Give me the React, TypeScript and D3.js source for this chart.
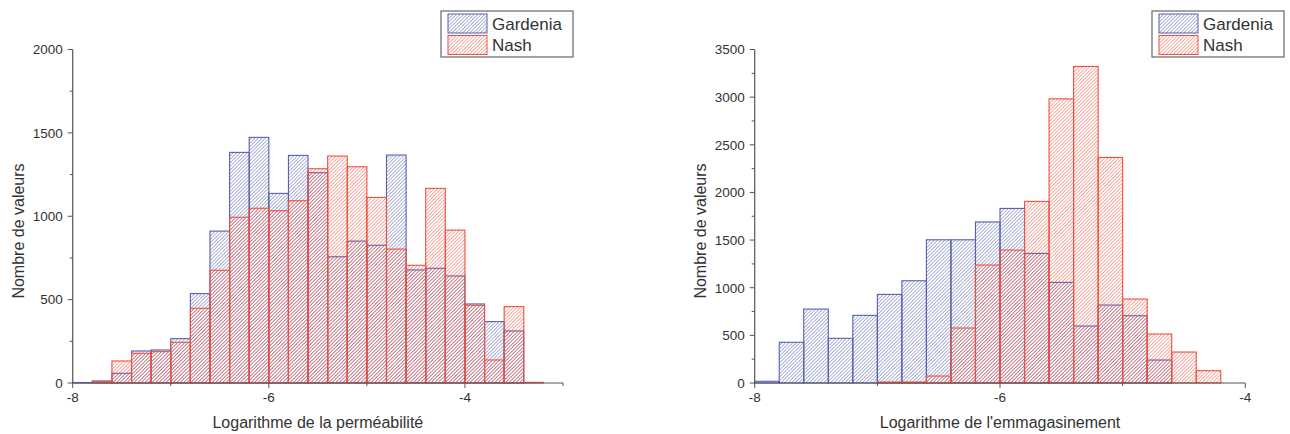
import React from "react";
import * as d3 from "d3";

// ---------- data ----------
const leftBinStarts = [
  -8.0, -7.8, -7.6, -7.4, -7.2, -7.0, -6.8, -6.6, -6.4, -6.2, -6.0, -5.8, -5.6,
  -5.4, -5.2, -5.0, -4.8, -4.6, -4.4, -4.2, -4.0, -3.8, -3.6, -3.4, -3.2,
];
const leftGardenia = [
  3, 12, 58, 192, 198, 266, 536, 911, 1383, 1473, 1137, 1365, 1261, 757, 851,
  826, 1367, 678, 688, 642, 474, 368, 312, 0, 0,
];
const leftNash = [
  0, 10, 132, 178, 188, 244, 448, 676, 994, 1048, 1033, 1093, 1285, 1361, 1297,
  1113, 803, 706, 1167, 917, 466, 138, 458, 4, 0,
];

const rightBinStarts = [
  -8.0, -7.8, -7.6, -7.4, -7.2, -7.0, -6.8, -6.6, -6.4, -6.2, -6.0, -5.8, -5.6,
  -5.4, -5.2, -5.0, -4.8, -4.6, -4.4, -4.2,
];
const rightGardenia = [
  18, 427, 776, 469, 710, 930, 1073, 1503, 1503, 1690, 1832, 1360, 1056, 598,
  818, 706, 241, 0, 0, 0,
];
const rightNash = [
  0, 0, 0, 0, 0, 10, 10, 73, 577, 1238, 1395, 1906, 2982, 3322, 2367, 881, 514,
  325, 129, 0,
];

const binWidth = 0.2;
const seriesNames = ["Gardenia", "Nash"];
const leftYTicks = [0, 500, 1000, 1500, 2000];
const rightYTicks = [0, 500, 1000, 1500, 2000, 2500, 3000, 3500];
const xTickLabels = [-8, -6, -4];

const BLUE = "#5560b0";
const RED = "#f0503c";
const AXIS = "#555";
const TEXT = "#333";
const FONT = "Liberation Sans, Arial, sans-serif";

type PanelProps = {
  x0: number;
  x1: number;
  xDomain: [number, number];
  yMax: number;
  yTicks: number[];
  minorX: number[];
  bins: number[];
  g: number[];
  n: number[];
  xTitle: string;
  legendX: number;
};

function Panel(p: PanelProps) {
  const yTop = 49.5;
  const yBot = 383;
  const x = d3.scaleLinear().domain(p.xDomain).range([p.x0, p.x1]);
  const y = d3.scaleLinear().domain([0, p.yMax]).range([yBot, yTop]);
  const step = p.yTicks[1] - p.yTicks[0];
  const minorY = p.yTicks.slice(0, -1).map((t) => t + step / 2);

  const bar = (vals: number[], fill: string, stroke: string, key: string) =>
    p.bins.map((b, i) =>
      vals[i] > 0 ? (
        <rect
          key={key + i}
          x={x(b)}
          y={y(vals[i])}
          width={x(b + binWidth) - x(b)}
          height={yBot - y(vals[i])}
          fill={fill}
          stroke={stroke}
          strokeWidth={1.1}
        />
      ) : null
    );

  const lx = p.legendX;
  return (
    <g>
      {bar(p.g, "url(#hatchBlue)", BLUE, "g")}
      {bar(p.n, "url(#hatchRed)", RED, "n")}
      {/* axes */}
      <line x1={p.x0} x2={p.x0} y1={yTop} y2={yBot} stroke={AXIS} strokeWidth={1.2} />
      <line x1={p.x0} x2={p.x1} y1={yBot} y2={yBot} stroke={AXIS} strokeWidth={1.2} />
      {p.yTicks.map((t) => (
        <g key={"yt" + t}>
          <line x1={p.x0 - 5} x2={p.x0} y1={y(t)} y2={y(t)} stroke={AXIS} strokeWidth={1} />
          <text x={p.x0 - 10} y={y(t)} dy="0.36em" textAnchor="end" fontSize={13.5} fill={TEXT} fontFamily={FONT}>
            {t}
          </text>
        </g>
      ))}
      {minorY.map((t) => (
        <line key={"ym" + t} x1={p.x0 - 3} x2={p.x0} y1={y(t)} y2={y(t)} stroke={AXIS} strokeWidth={1} />
      ))}
      {xTickLabels.map((t) => (
        <g key={"xt" + t}>
          <line x1={x(t)} x2={x(t)} y1={yBot} y2={yBot + 5} stroke={AXIS} strokeWidth={1} />
          <text x={x(t)} y={402} textAnchor="middle" fontSize={13.5} fill={TEXT} fontFamily={FONT}>
            {t}
          </text>
        </g>
      ))}
      {p.minorX.map((t) => (
        <line key={"xm" + t} x1={x(t)} x2={x(t)} y1={yBot} y2={yBot + 3} stroke={AXIS} strokeWidth={1} />
      ))}
      <text
        x={(p.x0 + p.x1) / 2}
        y={428}
        textAnchor="middle"
        fontSize={16}
        fill={TEXT}
        fontFamily={FONT}
      >
        {p.xTitle}
      </text>
      <text
        transform={`translate(${p.x0 - 49},231) rotate(-90)`}
        textAnchor="middle"
        fontSize={16}
        fill={TEXT}
        fontFamily={FONT}
      >
        Nombre de valeurs
      </text>
      {/* legend */}
      <rect x={lx} y={11} width={132} height={46} fill="white" stroke="#666" strokeWidth={1.2} />
      <rect x={lx + 7} y={14} width={39} height={19} fill="url(#hatchBlue)" stroke={BLUE} strokeWidth={1} />
      <rect x={lx + 7} y={35.5} width={39} height={19} fill="url(#hatchRed)" stroke={RED} strokeWidth={1} />
      <text x={lx + 51} y={24} dy="0.36em" fontSize={17} fill={TEXT} fontFamily={FONT}>
        {seriesNames[0]}
      </text>
      <text x={lx + 51} y={45} dy="0.36em" fontSize={17} fill={TEXT} fontFamily={FONT}>
        {seriesNames[1]}
      </text>
    </g>
  );
}

export default function App() {
  return (
    <svg
      width={1290}
      height={434}
      style={{ position: "absolute", left: 0, top: 0, background: "white" }}
    >
      <defs>
        <pattern id="hatchBlue" patternUnits="userSpaceOnUse" width={2.5} height={2.5} patternTransform="rotate(45)">
          <line x1={0} y1={0} x2={0} y2={2.5} stroke={BLUE} strokeWidth={0.95} />
        </pattern>
        <pattern id="hatchRed" patternUnits="userSpaceOnUse" width={2.5} height={2.5} patternTransform="rotate(45)">
          <line x1={0} y1={0} x2={0} y2={2.5} stroke={RED} strokeWidth={0.95} />
        </pattern>
      </defs>
      <Panel
        x0={72.7}
        x1={563}
        xDomain={[-8, -3]}
        yMax={2000}
        yTicks={leftYTicks}
        minorX={[-7, -5, -3]}
        bins={leftBinStarts}
        g={leftGardenia}
        n={leftNash}
        xTitle="Logarithme de la perméabilité"
        legendX={441}
      />
      <Panel
        x0={754.7}
        x1={1245.3}
        xDomain={[-8, -4]}
        yMax={3500}
        yTicks={rightYTicks}
        minorX={[-7, -5]}
        bins={rightBinStarts}
        g={rightGardenia}
        n={rightNash}
        xTitle="Logarithme de l'emmagasinement"
        legendX={1152}
      />
    </svg>
  );
}
